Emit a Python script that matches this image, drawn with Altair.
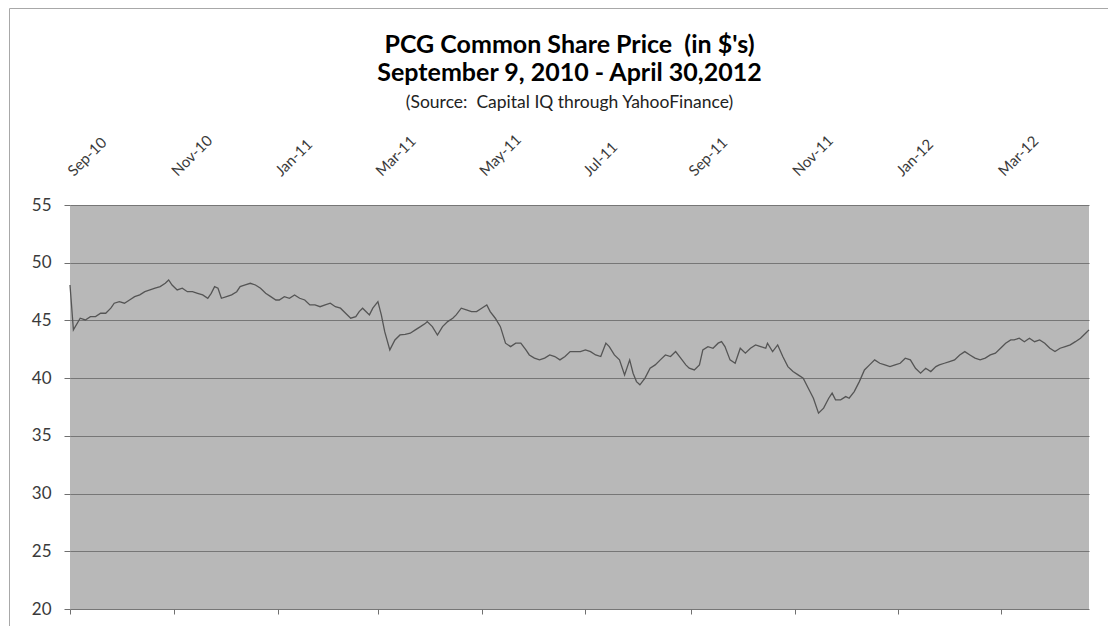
import altair as alt
import pandas as pd

# ---- data ----
dates = [
    "2010-09-09", "2010-09-11", "2010-09-15", "2010-09-18", "2010-09-21", "2010-09-24", "2010-09-27", "2010-09-30",
    "2010-10-03", "2010-10-05", "2010-10-08", "2010-10-11", "2010-10-14", "2010-10-17", "2010-10-20", "2010-10-23",
    "2010-10-26", "2010-10-29", "2010-11-01", "2010-11-04", "2010-11-06", "2010-11-08", "2010-11-11", "2010-11-14",
    "2010-11-17", "2010-11-20", "2010-11-23", "2010-11-26", "2010-11-29", "2010-12-01", "2010-12-03", "2010-12-05",
    "2010-12-07", "2010-12-10", "2010-12-13", "2010-12-16", "2010-12-18", "2010-12-21", "2010-12-24", "2010-12-27",
    "2010-12-30", "2011-01-02", "2011-01-05", "2011-01-08", "2011-01-10", "2011-01-13", "2011-01-16", "2011-01-19",
    "2011-01-22", "2011-01-25", "2011-01-28", "2011-01-31", "2011-02-03", "2011-02-06", "2011-02-09", "2011-02-12",
    "2011-02-15", "2011-02-18", "2011-02-21", "2011-02-24", "2011-02-26", "2011-02-28", "2011-03-03", "2011-03-04",
    "2011-03-06", "2011-03-09", "2011-03-11", "2011-03-13", "2011-03-16", "2011-03-19", "2011-03-22", "2011-03-25",
    "2011-03-28", "2011-03-31", "2011-04-03", "2011-04-06", "2011-04-07", "2011-04-10", "2011-04-13", "2011-04-16",
    "2011-04-19", "2011-04-22", "2011-04-24", "2011-04-27", "2011-04-30", "2011-05-03", "2011-05-06", "2011-05-09",
    "2011-05-12", "2011-05-14", "2011-05-17", "2011-05-20", "2011-05-23", "2011-05-26", "2011-05-29", "2011-06-01",
    "2011-06-04", "2011-06-06", "2011-06-09", "2011-06-12", "2011-06-15", "2011-06-18", "2011-06-21", "2011-06-24",
    "2011-06-27", "2011-06-30", "2011-07-03", "2011-07-06", "2011-07-09", "2011-07-12", "2011-07-15", "2011-07-18",
    "2011-07-21", "2011-07-23", "2011-07-26", "2011-07-29", "2011-08-01", "2011-08-04", "2011-08-06", "2011-08-08",
    "2011-08-10", "2011-08-13", "2011-08-16", "2011-08-19", "2011-08-22", "2011-08-25", "2011-08-28", "2011-08-31",
    "2011-09-03", "2011-09-06", "2011-09-08", "2011-09-11", "2011-09-14", "2011-09-16", "2011-09-19", "2011-09-22",
    "2011-09-25", "2011-09-27", "2011-09-29", "2011-10-02", "2011-10-05", "2011-10-08", "2011-10-11", "2011-10-14",
    "2011-10-17", "2011-10-20", "2011-10-23", "2011-10-24", "2011-10-27", "2011-10-30", "2011-11-02", "2011-11-05",
    "2011-11-08", "2011-11-11", "2011-11-14", "2011-11-17", "2011-11-20", "2011-11-23", "2011-11-26", "2011-11-29",
    "2011-12-01", "2011-12-03", "2011-12-06", "2011-12-09", "2011-12-11", "2011-12-14", "2011-12-17", "2011-12-20",
    "2011-12-23", "2011-12-26", "2011-12-29", "2012-01-01", "2012-01-04", "2012-01-07", "2012-01-10", "2012-01-13",
    "2012-01-16", "2012-01-19", "2012-01-22", "2012-01-25", "2012-01-28", "2012-01-31", "2012-02-02", "2012-02-05",
    "2012-02-08", "2012-02-11", "2012-02-14", "2012-02-17", "2012-02-20", "2012-02-23", "2012-02-26", "2012-02-29",
    "2012-03-03", "2012-03-06", "2012-03-09", "2012-03-12", "2012-03-15", "2012-03-17", "2012-03-20", "2012-03-23",
    "2012-03-26", "2012-03-29", "2012-04-01", "2012-04-04", "2012-04-07", "2012-04-10", "2012-04-13", "2012-04-16",
    "2012-04-19", "2012-04-22", "2012-04-25", "2012-04-28", "2012-04-30",
]
prices = [
    48.07, 44.18, 45.19, 45.04, 45.33, 45.33, 45.62, 45.62,
    46.06, 46.49, 46.63, 46.49, 46.77, 47.06, 47.21, 47.49,
    47.64, 47.79, 47.93, 48.22, 48.51, 48.07, 47.64, 47.79,
    47.49, 47.49, 47.35, 47.21, 46.92, 47.35, 47.93, 47.79,
    46.92, 47.06, 47.21, 47.49, 47.93, 48.07, 48.22, 48.07,
    47.79, 47.35, 47.06, 46.77, 46.77, 47.06, 46.92, 47.21,
    46.92, 46.77, 46.34, 46.34, 46.19, 46.34, 46.49, 46.19,
    46.06, 45.62, 45.19, 45.33, 45.76, 46.06, 45.62, 45.48,
    46.06, 46.63, 45.48, 44.03, 42.45, 43.31, 43.74, 43.80,
    43.89, 44.18, 44.46, 44.76, 44.90, 44.46, 43.74, 44.46,
    44.90, 45.19, 45.48, 46.06, 45.91, 45.76, 45.76, 46.06,
    46.34, 45.76, 45.19, 44.46, 43.03, 42.73, 43.03, 43.03,
    42.45, 42.01, 41.73, 41.58, 41.73, 42.01, 41.87, 41.58,
    41.87, 42.30, 42.30, 42.30, 42.45, 42.30, 42.01, 41.87,
    43.03, 42.73, 42.01, 41.58, 40.28, 41.58, 40.43, 39.70,
    39.42, 40.00, 40.86, 41.15, 41.58, 42.01, 41.87, 42.30,
    41.73, 41.15, 40.86, 40.71, 41.15, 42.45, 42.73, 42.59,
    43.03, 43.16, 42.73, 41.58, 41.29, 42.59, 42.16, 42.59,
    42.88, 42.73, 42.59, 43.03, 42.30, 42.88, 41.87, 41.00,
    40.57, 40.28, 40.00, 39.13, 38.26, 36.97, 37.40, 38.26,
    38.70, 38.12, 38.12, 38.40, 38.26, 38.84, 39.70, 40.71,
    41.15, 41.58, 41.29, 41.15, 41.00, 41.15, 41.29, 41.73,
    41.58, 40.85, 40.43, 40.86, 40.57, 41.00, 41.15, 41.29,
    41.43, 41.58, 42.01, 42.30, 42.01, 41.73, 41.58, 41.73,
    42.01, 42.16, 42.59, 43.03, 43.31, 43.31, 43.46, 43.16,
    43.46, 43.16, 43.31, 43.03, 42.59, 42.30, 42.59, 42.73,
    42.88, 43.16, 43.46, 43.89, 44.18,
]
tick_dates = [
    "2010-09-09", "2010-11-09", "2011-01-09", "2011-03-09", "2011-05-09",
    "2011-07-09", "2011-09-09", "2011-11-09", "2012-01-09", "2012-03-09",
]
y_ticks = [20, 25, 30, 35, 40, 45, 50, 55]
title_lines = ["PCG Common Share Price \u00a0(in $'s)", "September 9, 2010 - April 30,2012"]
subtitle_text = "(Source: \u00a0Capital IQ through YahooFinance)"

FONT = "Lato"

df = pd.DataFrame({"date": dates, "price": prices})


def dt(s):
    y, m, d = map(int, s.split("-"))
    return alt.DateTime(year=y, month=m, date=d, utc=True)


tick_values = [dt(t) for t in tick_dates]
x_scale = alt.Scale(type="utc", domain=[dt(dates[0]), dt(dates[-1])])
y_scale = alt.Scale(domain=[20, 55], nice=False, zero=False)
y_axis = alt.Axis(values=y_ticks, tickSize=6, tickColor="#707070", labelFontSize=17,
                  labelFont=FONT, labelColor="#3a3a3a", labelPadding=13, grid=True,
                  gridColor="#767676", gridWidth=1, domain=False, title=None)

frame = alt.Chart(pd.DataFrame({"k": [0]})).mark_rect(
    fill="transparent", stroke="#a8a8a8", strokeWidth=1
).encode(
    x=alt.value(-60.5), x2=alt.value(1041.5), y=alt.value(-196.5), y2=alt.value(470)
)

line = alt.Chart(df).mark_line(color="#555555", strokeWidth=1.3).encode(
    x=alt.X(
        "date:T", scale=x_scale,
        axis=alt.Axis(orient="bottom", values=tick_values, labels=False, ticks=True,
                      tickSize=5, tickColor="#707070", domain=False, grid=False, title=None),
    ),
    y=alt.Y("price:Q", scale=y_scale, axis=y_axis),
)

top = alt.Chart(df).mark_point(opacity=0).encode(
    x=alt.X(
        "date:T", scale=x_scale,
        axis=alt.Axis(orient="top", values=tick_values, format="%b-%y", labelAngle=315,
                      labelAlign="left", labelBaseline="middle", labelPadding=32,
                      ticks=False, domain=False, grid=False, labelFont=FONT,
                      labelFontSize=15, labelColor="#3a3a3a", labelOverlap=False, title=None),
    ),
    y=alt.Y("price:Q", scale=y_scale, axis=y_axis),
)

chart = alt.layer(frame, line, top).resolve_axis(x="independent").properties(
    width=1019,
    height=404,
    autosize=alt.AutoSizeParams(type="none"),
    padding={"left": 62, "top": 197, "right": 19, "bottom": 30},
    title=alt.TitleParams(
        text=title_lines, subtitle=subtitle_text, font=FONT, fontSize=25, fontWeight="bold",
        color="#000000", subtitleFont=FONT, subtitleFontSize=17.5, subtitleColor="#222222",
        anchor="middle", frame="group", dx=-10, offset=-103, lineHeight=28, subtitlePadding=8,
    ),
).configure_view(fill="#b8b8b8", stroke=None)

chart.save("out.html", embed_options={"renderer": "svg", "actions": False})
